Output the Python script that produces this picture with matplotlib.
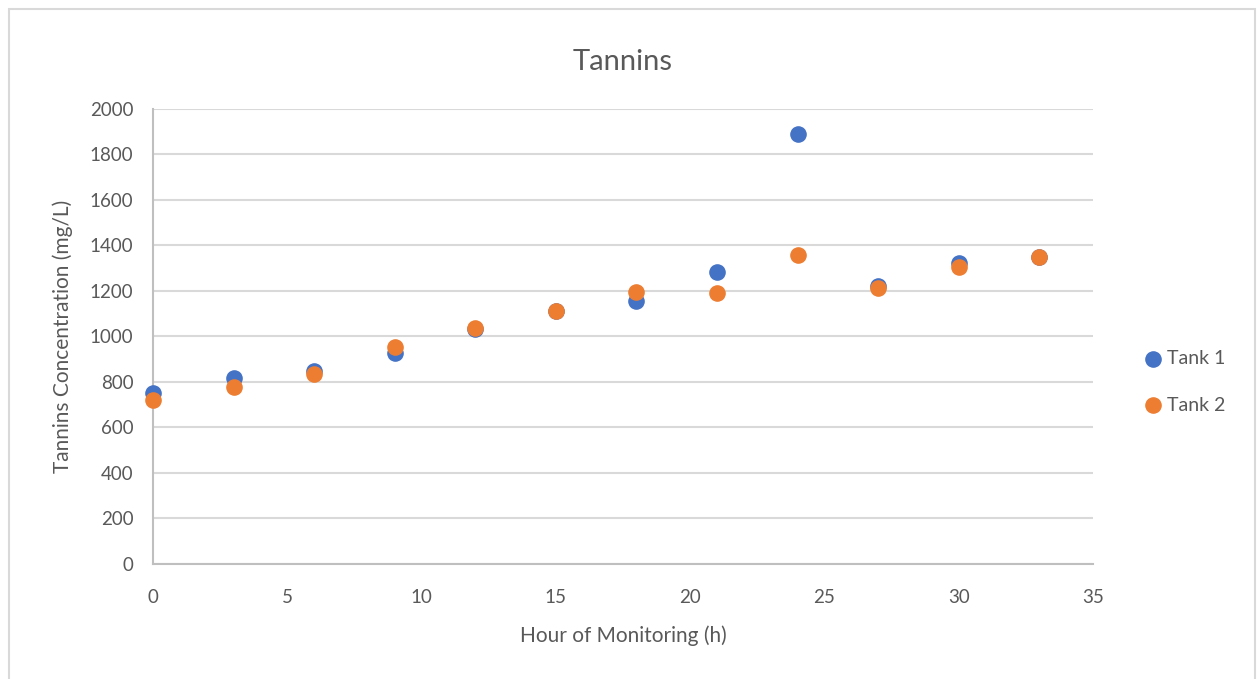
import matplotlib
matplotlib.use("Agg")
import matplotlib.pyplot as plt
from matplotlib.patches import Rectangle

# tannin readings for the two tanks
hours = [0, 3, 6, 9, 12, 15, 18, 21, 24, 27, 30, 33]
tank1 = [753, 816, 850, 926, 1031, 1110, 1156, 1285, 1889, 1222, 1324, 1350]
tank2 = [721, 779, 834, 955, 1036, 1110, 1197, 1190, 1358, 1212, 1307, 1348]

plt.rcParams['font.family'] = ['Lato', 'DejaVu Sans']
txt = '#595959'

fig = plt.figure(figsize=(12.58, 6.79), dpi=100)
fig.patches.append(Rectangle((9 / 1258, -0.1), 1246 / 1258, 1.1 - 9 / 679,
                             transform=fig.transFigure, fill=False,
                             edgecolor='#d9d9d9', linewidth=1.5))
ax = fig.add_axes([0.1216, 0.1694, 0.7472, 0.6701])

ax.scatter(hours, tank1, s=120, color='#4472c4', label='Tank 1', zorder=3)
ax.scatter(hours, tank2, s=120, color='#ed7d31', label='Tank 2', zorder=4)

ax.set_xlim(0, 35)
ax.set_ylim(0, 2000)
ax.set_xticks(range(0, 36, 5))
ax.set_yticks(range(0, 2001, 200))
ax.grid(axis='y', color='#d9d9d9', linewidth=1.5, zorder=0)
ax.set_axisbelow(True)
for side in ['top', 'right']:
    ax.spines[side].set_visible(False)
for side in ['left', 'bottom']:
    ax.spines[side].set_color('#bfbfbf')
    ax.spines[side].set_linewidth(1.5)
ax.tick_params(length=0, labelsize=13.5, colors=txt)
ax.tick_params(axis='x', pad=18)
ax.tick_params(axis='y', pad=14)
for c in ax.collections:
    c.set_clip_on(False)

ax.set_title('Tannins', fontsize=21, color=txt, pad=28)
ax.set_xlabel('Hour of Monitoring (h)', fontsize=15, color=txt, labelpad=14)
ax.set_ylabel('Tannins Concentration (mg/L)', fontsize=15, color=txt, labelpad=12)

leg = ax.legend(loc='center left', bbox_to_anchor=(1.025, 0.4), frameon=False,
                fontsize=14, labelspacing=1.5, handletextpad=-0.3,
                markerscale=1.0)
for t in leg.get_texts():
    t.set_color(txt)

fig.savefig('out.png', dpi=100)
